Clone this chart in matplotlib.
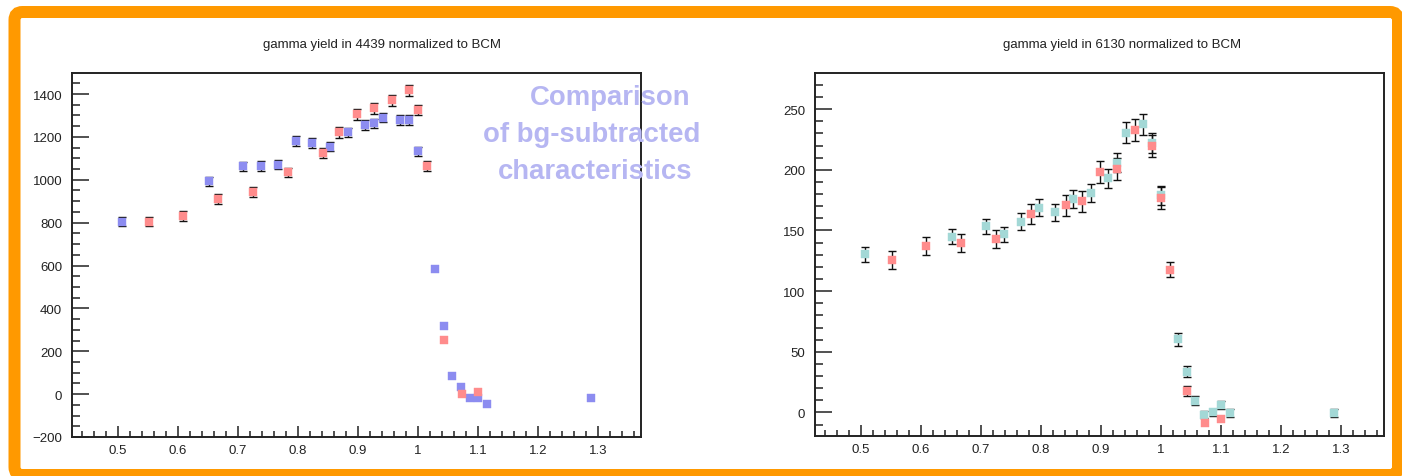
import matplotlib
matplotlib.use('Agg')
import matplotlib.pyplot as plt
from matplotlib.patches import FancyBboxPatch
from matplotlib.ticker import MultipleLocator, FuncFormatter

plt.rcParams['font.family'] = ['Liberation Sans', 'DejaVu Sans']

# ---------------- data ----------------
# set A (blue / teal points) and set B (red points) energies
x_a = [0.507, 0.651, 0.708, 0.738, 0.766, 0.797, 0.824, 0.854, 0.883, 0.912,
       0.927, 0.941, 0.970, 0.985, 1.000, 1.028, 1.043, 1.057, 1.071, 1.086,
       1.100, 1.115, 1.289]
x_b = [0.551, 0.609, 0.667, 0.725, 0.783, 0.841, 0.869, 0.899, 0.927, 0.957,
       0.985, 1.000, 1.015, 1.043, 1.073, 1.100]

# 4439 keV yield
y4439_a = [805, 992, 1063, 1065, 1070, 1181, 1171, 1155, 1221, 1255,
           1263, 1290, 1278, 1278, 1132, 583, 317, 84, 33, -20,
           -20, -45, -20]
e4439_a = [22, 22, 22, 22, 22, 22, 22, 22, 22, 22,
           22, 22, 22, 22, 22, 0, 0, 0, 0, 0,
           0, 0, 0]
y4439_b = [805, 832, 909, 941, 1034, 1123, 1221, 1306, 1333, 1371,
           1418, 1325, 1065, 253, 0, 11]
e4439_b = [23, 23, 23, 23, 23, 23, 24, 25, 25, 25,
           25, 25, 23, 0, 0, 0]

# 6130 keV yield
y6130_a = [130.4, 145, 153.3, 146.7, 157, 168.8, 165, 176, 181, 193,
           206, 230.7, 237.6, 222, 179, 60.2, 33.7, 9.8, -1.8, 0,
           6.2, -0.4, -0.4]
e6130_a = [6, 6, 6.5, 6.5, 7, 7, 7, 7.5, 7.5, 8,
           8, 8.5, 8.5, 8.5, 8, 5.5, 4.5, 3.5, 3, 3,
           3, 3, 3]
y6130_b = [125.5, 137.3, 139.5, 143, 163.5, 170.7, 174, 198.5, 201, 232.6,
           219.7, 177, 117.8, 17.5, -9, -5.6]
e6130_b = [7.5, 7.5, 7.5, 7.5, 8, 8.5, 8.5, 9, 9, 9,
           9, 9, 6.5, 4, 0, 0]

titles = ["gamma yield in 4439 normalized to BCM",
          "gamma yield in 6130 normalized to BCM"]
note_lines = ["Comparison", "of bg-subtracted", "characteristics"]

# ---------------- figure ----------------
W, H = 1402, 477
fig = plt.figure(figsize=(W / 100, H / 100), dpi=100)
fig.patch.set_facecolor('white')

# orange frame
frame = FancyBboxPatch((14.5 / 100, 1 / 100), (1398 - 14.5) / 100, (464 - 1) / 100,
                       boxstyle="round,pad=0,rounding_size=0.08",
                       transform=fig.dpi_scale_trans, facecolor='none',
                       edgecolor='#ff9900', linewidth=12 * 0.72, zorder=0)
fig.patches.append(frame)


def px_axes(x0, y0, x1, y1):
    return fig.add_axes([x0 / W, 1 - y1 / H, (x1 - x0) / W, (y1 - y0) / H])


ax1 = px_axes(72, 74, 641, 438)
ax2 = px_axes(815, 74, 1384, 437)


def fmt_x(v, pos):
    s = f"{v:.1f}"
    return "1" if abs(v - 1) < 1e-9 else s


def style(ax, ymaj, ymin):
    ax.set_xlim(0.4235, 1.3717)
    ax.xaxis.set_major_locator(MultipleLocator(0.1))
    ax.xaxis.set_minor_locator(MultipleLocator(0.02))
    ax.xaxis.set_major_formatter(FuncFormatter(fmt_x))
    ax.yaxis.set_major_locator(MultipleLocator(ymaj))
    ax.yaxis.set_minor_locator(MultipleLocator(ymin))
    ax.tick_params(axis='both', which='both', direction='in', top=False, right=False,
                   width=1.1, color='#222222', labelsize=9.5, labelcolor='#222222')
    ax.tick_params(axis='x', which='major', length=8, pad=5)
    ax.tick_params(axis='x', which='minor', length=4)
    ax.tick_params(axis='y', which='major', length=12.5, pad=7)
    ax.tick_params(axis='y', which='minor', length=6)
    for sp in ax.spines.values():
        sp.set_linewidth(1.4)
        sp.set_color('#222222')


def draw(ax, x, y, e, color):
    xe = [xi for xi, ei in zip(x, e) if ei > 0]
    ye = [yi for yi, ei in zip(y, e) if ei > 0]
    ee = [ei for ei in e if ei > 0]
    ax.errorbar(xe, ye, yerr=ee, fmt='none', ecolor='#111111', elinewidth=1.0,
                capsize=3, capthick=1.0, zorder=2)
    ax.plot(x, y, linestyle='none', marker='s', markersize=5.2,
            markerfacecolor=color, markeredgecolor=color, markeredgewidth=0.3, zorder=3)


# left panel
style(ax1, 200, 50)
ax1.set_ylim(-200, 1498)
draw(ax1, x_a, y4439_a, e4439_a, '#8c8cf0')
draw(ax1, x_b, y4439_b, e4439_b, '#ff8c8c')

# right panel
style(ax2, 50, 10)
ax2.set_ylim(-19.4, 279.8)
draw(ax2, x_a, y6130_a, e6130_a, '#a3d8d6')
draw(ax2, x_b, y6130_b, e6130_b, '#ff8c8c')

# titles
fig.text(382 / W, 1 - 45 / H, titles[0], ha='center', va='center', fontsize=9.5,
         color='#222222')
fig.text(1122 / W, 1 - 45 / H, titles[1], ha='center', va='center', fontsize=9.5,
         color='#222222')

# overlay note
for line, cx, cy in zip(note_lines, [610, 592, 595], [98, 135, 172]):
    fig.text(cx / W, 1 - cy / H, line, ha='center', va='center', fontsize=19.8,
             fontweight='bold', color='#b6b6f2')

fig.savefig('out.png', dpi=100, facecolor='white')
